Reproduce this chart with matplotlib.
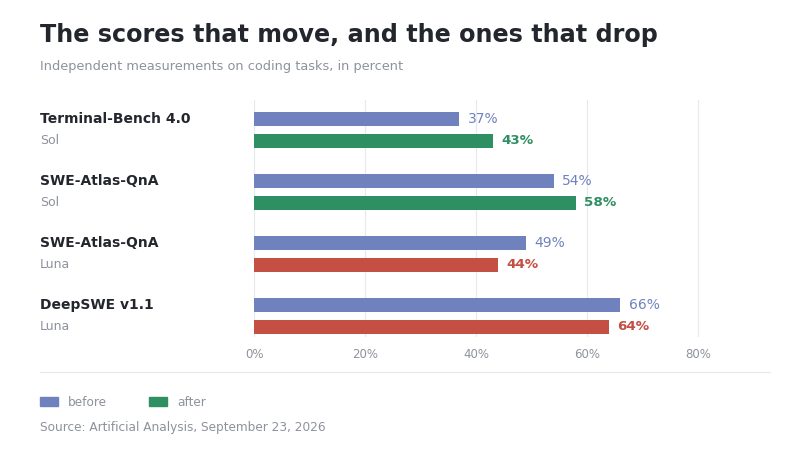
import matplotlib
matplotlib.use("Agg")
import matplotlib.pyplot as plt
import matplotlib.transforms as mtrans
from matplotlib.patches import Patch
import numpy as np

# colors
c_before = "#6f82be"
c_up = "#2e8f62"
c_down = "#c44f43"
c_dark = "#23262d"
c_gray = "#8d929b"
c_grid = "#e6e9ef"

benchmarks = ["Terminal-Bench 4.0", "SWE-Atlas-QnA", "SWE-Atlas-QnA", "DeepSWE v1.1"]
models = ["Sol", "Sol", "Luna", "Luna"]
before = [37, 54, 49, 66]
after = [43, 58, 44, 64]
ticks = [0, 20, 40, 60, 80]

fig = plt.figure(figsize=(8, 4.5), dpi=100)
ax = fig.add_axes([0.3175, 0.251, 0.645, 0.527])

y = np.arange(len(benchmarks))
off = 0.177
h = 0.23
after_colors = [c_up if a >= b else c_down for a, b in zip(after, before)]

ax.barh(y - off, before, height=h, color=c_before, zorder=2)
ax.barh(y + off, after, height=h, color=after_colors, zorder=2)

for i in range(len(y)):
    ax.annotate(f"{before[i]}%", (before[i], y[i] - off), xytext=(6, 0),
                textcoords="offset points", va="center", ha="left",
                fontsize=10, color=c_before)
    ax.annotate(f"{after[i]}%", (after[i], y[i] + off), xytext=(6, 0),
                textcoords="offset points", va="center", ha="left",
                fontsize=9.7, color=after_colors[i], fontweight="bold")

ax.set_xlim(0, 93)
ax.set_ylim(3.34, -0.48)
ax.set_xticks(ticks)
ax.set_xticklabels([f"{t}%" for t in ticks])
ax.set_yticks([])
ax.tick_params(axis="x", length=0, pad=8, labelsize=8.5, labelcolor=c_gray)
ax.grid(axis="x", color=c_grid, linewidth=0.8, zorder=0)
for s in ax.spines.values():
    s.set_visible(False)

# row labels on the left
tr = mtrans.blended_transform_factory(fig.transFigure, ax.transData)
for i in range(len(y)):
    ax.text(0.05, y[i] - off, benchmarks[i], transform=tr, ha="left", va="center",
            fontsize=10, fontweight="bold", color=c_dark)
    ax.text(0.05, y[i] + off, models[i], transform=tr, ha="left", va="center",
            fontsize=9, color=c_gray)

fig.text(0.05, 0.922, "The scores that move, and the ones that drop", ha="left", va="center",
         fontsize=17.2, fontweight="bold", color=c_dark)
fig.text(0.05, 0.853, "Independent measurements on coding tasks, in percent", ha="left",
         va="center", fontsize=9.3, color=c_gray)

fig.add_artist(plt.Line2D([0.05, 0.9625], [0.173, 0.173], transform=fig.transFigure,
                          color=c_grid, linewidth=0.8))

handles = [Patch(color=c_before, label="before"), Patch(color=c_up, label="after")]
leg = fig.legend(handles=handles, loc="center left", bbox_to_anchor=(0.05, 0.106), ncol=2,
                 frameon=False, fontsize=8.7, handlelength=1.5, handleheight=0.83,
                 handletextpad=0.83, columnspacing=3.45, borderpad=0, borderaxespad=0)
for t in leg.get_texts():
    t.set_color(c_gray)

fig.text(0.05, 0.051, "Source: Artificial Analysis, September 23, 2026", ha="left", va="center",
         fontsize=8.7, color=c_gray)

fig.savefig("out.png", dpi=100, facecolor="white")
